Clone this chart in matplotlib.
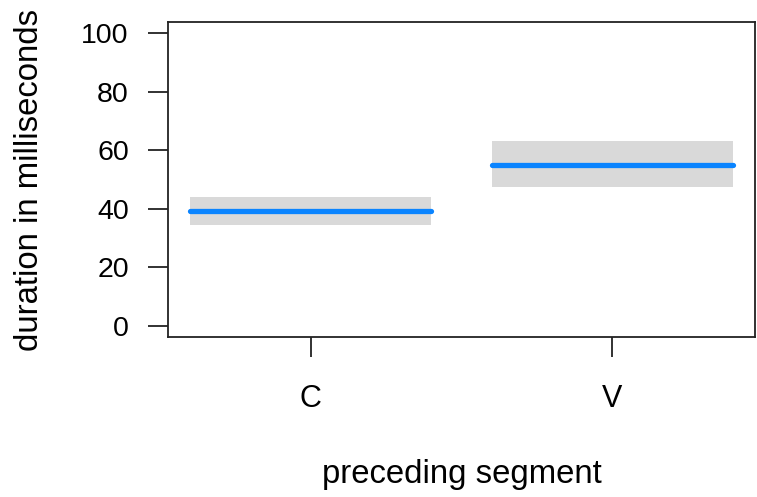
import matplotlib
matplotlib.use("Agg")
import matplotlib.pyplot as plt

categories = ["C", "V"]
fit = [39.2, 55.0]
lower = [34.5, 47.3]
upper = [44.0, 63.1]
yticks = [0, 20, 40, 60, 80, 100]

plt.rcParams['font.family'] = ['Liberation Sans', 'DejaVu Sans']

fig = plt.figure(figsize=(7.57, 4.97), dpi=100)
ax = fig.add_axes([168.3/757, 1-337.3/497, (754.7-168.3)/757, (337.3-21.7)/497])

half = 0.4
for i, cat in enumerate(categories):
    x = i + 1
    ax.fill_between([x-half, x+half], [lower[i]]*2, [upper[i]]*2,
                    color='#D9D9D9', linewidth=0, zorder=1)
    ax.plot([x-half, x+half], [fit[i]]*2, color='#0A84FF', linewidth=3.8,
            solid_capstyle='round', zorder=2)

ax.set_xlim(0.528, 2.472)
ax.set_ylim(-4, 104)
ax.set_xticks([1, 2])
ax.set_xticklabels(categories)
ax.set_yticks(yticks)
ax.set_yticklabels([str(v) for v in yticks])

for s in ax.spines.values():
    s.set_linewidth(1.3)
    s.set_color('#222222')
ax.tick_params(axis='both', length=14.4, width=1.3, color='#222222')
ax.tick_params(axis='y', labelsize=20.5, pad=14)
ax.tick_params(axis='x', labelsize=22, pad=19)

ax.set_xlabel("preceding segment", fontsize=23.7)
ax.set_ylabel("duration in milliseconds", fontsize=23.7)
ax.xaxis.set_label_coords(0.5, -0.436)
ax.xaxis.label.set_va('center')
ax.yaxis.set_label_coords(-0.236, 0.5)
ax.yaxis.label.set_va('center')

fig.savefig("out.png", dpi=100)
